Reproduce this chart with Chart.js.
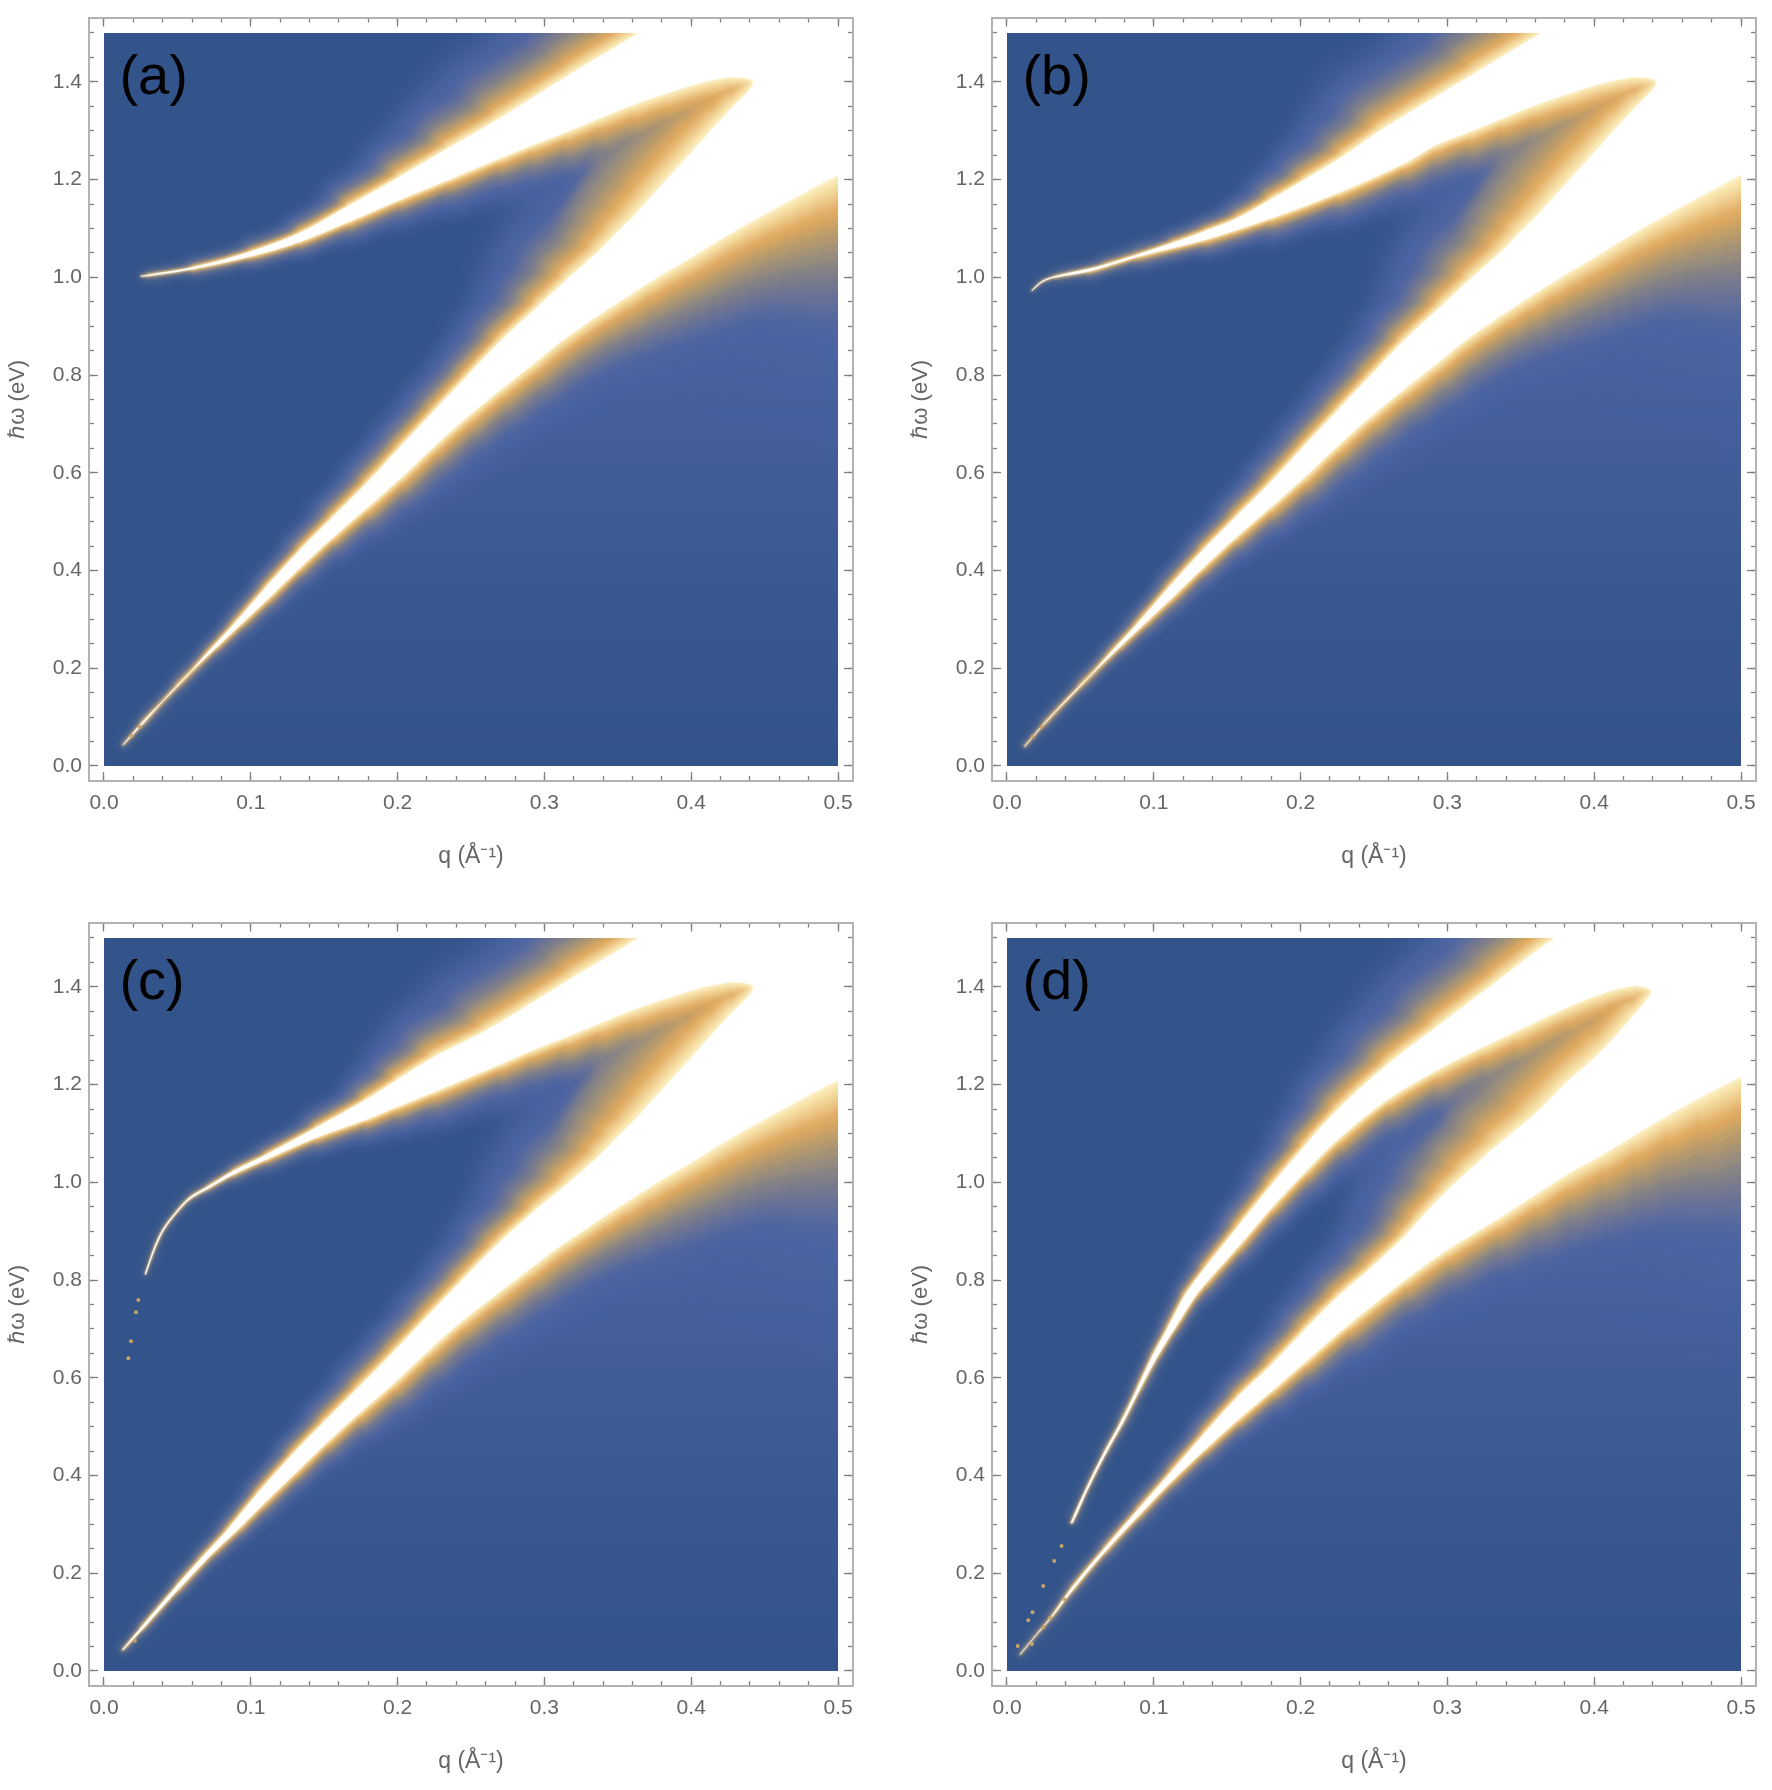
<!DOCTYPE html>
<html>
<head>
<meta charset="utf-8">
<script src="https://cdn.jsdelivr.net/npm/chart.js@4"></script>
<style>
html, body { margin: 0; padding: 0; background: #fff; }
body { position: relative; width: 1772px; height: 1790px; overflow: hidden; }
canvas { position: absolute; }
</style>
</head>
<body>
<canvas id="panelA" width="886" height="885" style="left:0;top:0"></canvas>
<canvas id="panelB" width="869" height="885" style="left:903px;top:0"></canvas>
<canvas id="panelC" width="886" height="885" style="left:0;top:905px"></canvas>
<canvas id="panelD" width="869" height="885" style="left:903px;top:905px"></canvas>
<script>
// axis ticks
const qMajor = 0.1, qMinor = 0.02;
const wMajor = 0.2, wMinor = 0.05;

// Every curve below is q, hbar-omega and the width of its orange glow in meV.
// High q part of the lower edge, lens top and lens bottom are the same in (a), (b), (c)
const farEdgeQ = [.3243,.34,.355,.37,.3835,.395,.406,.417,.4285,.44,.4516,.463,.4741,.487,.5,.52,.54];
const farEdgeW = [.897,.929,.958,.987,1.012,1.032,1.052,1.073,1.093,1.113,1.132,1.151,1.169,1.19,1.21,1.24,1.27];
const farEdgeG = [50,54,60,66,72,76,80,85,90,96,104,113,124,136,150,160,170];
const cornerQ = [.6,.6,.46,.42];
const cornerW = [1.3,1.7,1.7,1.61];
const cornerG = [100,60,60,60];
const lensTopQ = [.2923,.3154,.338,.3604,.3835,.406,.42,.4285,.4414];
const lensTopW = [1.271,1.298,1.326,1.353,1.377,1.398,1.407,1.41,1.404];
const lensTopG = [34,40,50,60,68,72,70,60,50];
const lensBottomQ = [.4414,.4285,.417,.406,.395,.3835,.372,.3604,.349,.338,.3165];
const lensBottomW = [1.39,1.349,1.312,1.275,1.238,1.2,1.162,1.124,1.09,1.056,.9985];
const lensBottomG = [50,75,85,95,100,100,95,88,78,66,52];

// panel (a)
const aLowQ = [.013,.026,.05,.077,.094,.111,.133,.156,.179,.2016,.2245,.2473,.27,.2925,.31];
const aLowW = [.043,.085,.165,.244,.292,.34,.404,.468,.528,.588,.653,.714,.77,.823,.866];
const aLowG = [1.5,2.5,5,7,9,11,13,16,22,28,32,36,40,44,48];
const aCurveQ = [.364,.32,.27,.235,.2016,.167,.1335,.1,.06,.03,.025];
const aCurveW = [1.5,1.42,1.326,1.265,1.206,1.147,1.091,1.053,1.02,1.005,1.002];
const aCurveG = [62,60,50,38,28,18,11,8,4,1.5,.6];
const aInnerQ = [.03,.06,.1,.1335,.167,.2016,.235,.27];
const aInnerW = [1.003,1.017,1.043,1.073,1.114,1.159,1.2,1.244];
const aInnerG = [.6,4,8,10,14,18,22,28];
const aBackQ = [.297,.2698,.247,.2243,.2015,.179,.156,.1335,.11,.088,.07,.054,.0257,.013];
const aBackW = [.9445,.8686,.797,.725,.652,.579,.51,.442,.365,.2887,.23,.176,.088,.043];
const aBackG = [40,30,27,24,22,20,16,13,10,8,6,5,2.5,1.2];
const aSpecksQ = [.0245,.0189];
const aSpecksW = [.08,.0614];

// panel (b)
const bLowQ = [.012,.025,.05,.077,.094,.111,.133,.156,.179,.2016,.2245,.2473,.27,.2925,.31];
const bLowW = [.04,.085,.165,.244,.292,.34,.404,.468,.528,.588,.653,.714,.77,.823,.866];
const bLowG = [1.5,2.5,5,7,9,11,13,16,22,28,32,36,40,44,48];
const bCurveQ = [.3637,.32,.2552,.23,.203,.18,.1575,.135,.1122,.0668,.0327,.0236,.0168];
const bCurveW = [1.5,1.42,1.302,1.25,1.2,1.16,1.122,1.095,1.07,1.0256,1.0017,.9914,.973];
const bCurveG = [62,60,46,34,26,18,12,10,8,4,1.5,1,.4];
const bInnerQ = [.0172,.0245,.033,.0554,.0894,.1349,.18,.2257,.271];
const bInnerW = [.973,.9914,1.0003,1.012,1.0426,1.077,1.121,1.173,1.234];
const bInnerG = [.4,.6,1.5,4,8,11,16,22,28];
const bBackQ = [.297,.2698,.247,.2243,.2015,.179,.156,.1335,.11,.088,.07,.054,.0257,.012];
const bBackW = [.9445,.8686,.797,.725,.652,.579,.51,.442,.365,.2887,.23,.176,.088,.04];
const bBackG = [40,30,27,24,22,20,16,13,10,8,6,5,2.5,1.2];
const bSpecksQ = [.0235,.0175];
const bSpecksW = [.08,.06];

// panel (c)
const cLowQ = [.013,.026,.05,.075,.092,.108,.13,.152,.174,.197,.22,.243,.267,.29,.309];
const cLowW = [.043,.085,.165,.244,.292,.34,.404,.468,.528,.588,.653,.714,.77,.823,.866];
const cLowG = [1.5,2.5,5,7,9,11,13,16,22,28,32,36,40,44,48];
const cCurveQ = [.364,.32,.2618,.2243,.2,.179,.1449,.1108,.088,.07,.0586,.0495,.0402,.0347,.0313,.0279];
const cCurveW = [1.5,1.42,1.313,1.2555,1.21,1.17,1.1125,1.057,1.023,.99,.9695,.941,.904,.87,.842,.812];
const cCurveG = [62,60,48,36,26,18,11,8,5,3,2,1.5,1,.7,.5,.2];
const cInnerQ = [.0285,.032,.0355,.041,.0498,.0586,.07,.088,.1108,.1449,.179,.2,.2243,.2698];
const cInnerW = [.812,.842,.87,.904,.939,.966,.986,1.016,1.047,1.092,1.129,1.155,1.1845,1.2416];
const cInnerG = [.2,.5,.7,1,1.5,2,3,5,8,11,16,20,24,30];
const cBackQ = [.2945,.2665,.243,.22,.197,.173,.15,.128,.105,.084,.066,.05,.025,.0125];
const cBackW = [.9445,.8686,.797,.725,.652,.579,.51,.442,.365,.2887,.23,.176,.088,.043];
const cBackG = [40,30,27,24,22,20,16,13,10,8,6,5,2.5,1.2];
const cSpecksQ = [.0234,.0218,.0184,.0166,.021];
const cSpecksW = [.759,.734,.675,.64,.062];

// panel (d)
const dLowQ = [.009,.0202,.0304,.0441,.0668,.0894,.1122,.1349,.1576,.1803,.203,.2324,.2711,.3,.3337,.3585,.3813,.404,.4264,.4494,.472,.5,.54];
const dLowW = [.034,.0747,.11,.1634,.244,.317,.3886,.4534,.5149,.5729,.632,.708,.8,.862,.924,.972,1.016,1.054,1.095,1.136,1.174,1.217,1.28];
const dLowG = [1,1.5,2,3.5,5,7,9,11,14,18,22,28,36,42,50,60,70,80,90,104,124,150,170];
const dCurveQ = [.47,.43,.3733,.3358,.2936,.2595,.2255,.203,.1803,.1574,.1349,.121,.109,.099,.0884,.0773,.0661,.0548,.0436];
const dCurveW = [1.7,1.6,1.5,1.4156,1.32,1.2416,1.1495,1.075,.995,.91,.825,.768,.7,.6445,.5763,.508,.4466,.3784,.3033];
const dCurveG = [60,60,62,60,50,40,32,24,19,15,11,8,6,5,4,3,2,1.5,1];
const dInnerQ = [.0446,.056,.0675,.0789,.0904,.1026,.114,.1285,.1349,.1574,.1803,.203,.2255,.2595,.2936,.3256,.3472,.3813,.404,.4264,.4385];
const dInnerW = [.3033,.3784,.4466,.508,.5763,.6445,.7,.768,.792,.868,.948,1.0205,1.088,1.17,1.231,1.279,1.31,1.358,1.385,1.402,1.395];
const dInnerG = [1,1.5,2,3,4,5,6,8,10,13,16,20,24,30,40,50,58,68,72,60,50];
const dBackQ = [.4385,.4264,.404,.3813,.3585,.3358,.3132,.2995,.2813,.2711,.2484,.225,.203,.1803,.1576,.1349,.1122,.0894,.0668,.0441,.0304,.0202,.009];
const dBackW = [1.385,1.34,1.265,1.204,1.136,1.08,1.02,.982,.924,.89,.826,.765,.699,.6274,.5626,.4876,.409,.3306,.2522,.1703,.112,.0747,.034];
const dBackG = [50,75,95,100,95,80,66,56,46,38,32,28,24,19,15,12,9,7,5,3.5,2,1.4,1];
const dSpecksQ = [.0372,.0322,.0247,.0174,.0145,.0073,.0395,.0293,.025,.017];
const dSpecksW = [.2556,.2249,.1737,.1204,.104,.051,.146,.109,.09,.055];

// Colour ramp of the density plot, outermost first: [share of glow width, colour, soft pass]
const ramp = [
    [3.6, 'rgba(74,99,162,.1)'], [3.3, 'rgba(74,99,162,.18)'], [3.0, 'rgba(74,99,162,.3)'], [2.7, 'rgba(74,99,162,.5)'],
    [2.4, '#4a63a2'], [2.15, '#4f65a0'], [1.95, '#56699e'], [1.82, '#5e6d9b'], [1.7, '#667198'], [1.55, '#727791'],
    [1.4, '#7d7d8a'], [1.25, '#8a8583', 4],
    [1.12, '#978c7d'], [.98, '#a49276'], [.86, '#b3986e'], [.74, '#c09e69'], [.64, '#cfa364'], [.56, '#d8a662'], [.5, '#dfab62', 1.5],
    [.44, '#e2b06a'], [.38, '#e7ba75'], [.33, '#eac27f'], [.28, '#edca8a'], [.23, '#f1d295'], [.18, '#f4daa0'],
    [.13, '#f7e2a8'], [.08, '#fae9b8'], [.03, '#fdf3cf', .8]
];
const haloFrom = 1.55;   // layers this far out stay tight around everything but the lower edge
const haloCap = 62;      // meV

const toPoints = (qs, ws) => qs.map((q, i) => ({ x: q, y: ws[i] }));
const inset = { left: -15, right: -15, top: -15.5, bottom: -15 };

// soft passes over the colour bands, the last one also trims them to the plot rectangle
const softenBands = {
    id: 'softenBands',
    afterDatasetDraw(chart, args) {
        const ds = chart.data.datasets[args.index];
        if (!ds.soften) return;
        const { ctx, canvas, scales, chartArea: a } = chart;
        ctx.save();
        ctx.beginPath();
        ctx.rect(a.left, a.top, a.right - a.left, a.bottom - a.top);
        ctx.clip();
        ctx.filter = 'blur(' + ds.soften + 'px)';
        ctx.drawImage(canvas, 0, 0);
        ctx.filter = 'none';
        if (ds.trim) {
            const left = scales.x.getPixelForValue(0), right = scales.x.getPixelForValue(.5);
            const top = scales.y.getPixelForValue(1.5), bottom = scales.y.getPixelForValue(0);
            ctx.beginPath();
            ctx.rect(a.left, a.top, a.right - a.left, a.bottom - a.top);
            ctx.rect(left, top, right - left, bottom - top);
            ctx.fillStyle = '#fff';
            ctx.fill('evenodd');
        }
        ctx.restore();
    }
};

// panel letter
const panelLetter = {
    id: 'panelLetter',
    afterDatasetsDraw(chart, args, opts) {
        const { ctx, scales } = chart;
        ctx.save();
        ctx.font = '56px "Liberation Sans"';
        ctx.fillStyle = '#000';
        ctx.textAlign = 'left';
        ctx.textBaseline = 'alphabetic';
        ctx.fillText(opts.text, scales.x.getPixelForValue(0.0105), scales.y.getPixelForValue(1.376));
        ctx.restore();
    }
};

function makeAxis(axis, position, step, major, labelled) {
    const cfg = {
        type: 'linear',
        axis: axis,
        position: position,
        min: axis === 'x' ? -0.0102 : -0.0307,
        max: axis === 'x' ? 0.5102 : 1.5317,
        weight: labelled ? 5 : 1,
        afterFit(s) {
            if (axis === 'x') s.height = labelled ? 104 : 0;
            else s.width = labelled ? 89 : 0;
            s.paddingLeft = s.paddingRight = s.paddingTop = s.paddingBottom = 0;
        },
        border: { color: '#b2b2b2', width: 2, z: 1 },
        grid: {
            z: 1,
            drawOnChartArea: false,
            tickLength: major ? -9 : -5,
            tickColor: '#7f7f7f',
            tickWidth: 1.3
        },
        ticks: {
            display: !!labelled,
            stepSize: step,
            includeBounds: false,
            autoSkip: false,
            maxRotation: 0,
            maxTicksLimit: 200,
            color: '#666',
            font: { family: '"Liberation Sans"', size: 21 },
            padding: axis === 'x' ? 19 : 16,
            callback: v => Number(v).toFixed(1)
        },
        title: { display: false }
    };
    if (labelled) {
        cfg.title = axis === 'x'
            ? { display: true, text: 'q (Å⁻¹)', color: '#666', font: { family: '"Liberation Sans"', size: 23 }, padding: 15 }
            : { display: true, text: 'ℏω (eV)', color: '#666', font: { family: '"Liberation Sans"', size: 22 }, padding: 5 };
    }
    return cfg;
}

function drawPanel(id, letter, edgeQ, edgeW, edgeG, restQ, restW, restG, specksQ, specksW) {
    const outlineQ = edgeQ.concat(restQ);
    const outlineW = edgeW.concat(restW);
    const outlineG = edgeG.concat(restG);
    const outline = toPoints(outlineQ, outlineW);
    const sets = [];

    // dark base of the plot, runs past the frame so the soft pass has no white to pull in
    sets.push({
        data: toPoints([-.03, .53, .53, -.03], [-.06, -.06, 1.56, 1.56]),
        showLine: true, fill: 'shape', backgroundColor: '#33548a', borderWidth: 0, pointRadius: 0, clip: 0
    });

    // lighter blue under the lower edge, fading to the bottom
    const washQ = edgeQ.slice(1).concat([edgeQ[edgeQ.length - 1], edgeQ[1]]);
    const washW = edgeW.slice(1).concat([-.06, -.06]);
    sets.push({
        data: toPoints(washQ, washW),
        showLine: true, fill: 'shape', borderWidth: 0, pointRadius: 0, clip: 0,
        backgroundColor(c) {
            const { ctx, scales, chartArea } = c.chart;
            if (!chartArea) return 'transparent';
            const g = ctx.createLinearGradient(0, scales.y.getPixelForValue(0), 0, scales.y.getPixelForValue(.85));
            g.addColorStop(0, 'rgba(74,99,162,0)');
            g.addColorStop(.24, 'rgba(74,99,162,.12)');
            g.addColorStop(.47, 'rgba(74,99,162,.32)');
            g.addColorStop(.7, 'rgba(74,99,162,.6)');
            g.addColorStop(1, 'rgba(74,99,162,1)');
            return g;
        }
    });

    // glow bands around the white region
    ramp.forEach(([share, colour, soft], n) => {
        sets.push({
            data: outline,
            showLine: true, fill: false, pointRadius: 0, clip: 0,
            tension: .35, capBezierPoints: false,
            soften: soft,
            trim: n === ramp.length - 1,
            borderColor: colour, borderWidth: 1,
            borderCapStyle: 'round', borderJoinStyle: 'round',
            segment: {
                borderWidth(s) {
                    const y = s.chart.scales.y;
                    let meV = (outlineG[s.p0DataIndex] + outlineG[s.p1DataIndex]) / 2;
                    if (share >= haloFrom && s.p0DataIndex >= edgeQ.length) meV = Math.min(meV, haloCap);
                    return 2 * share * (y.getPixelForValue(0) - y.getPixelForValue(meV / 1000));
                }
            }
        });
    });

    // the saturated white region
    sets.push({
        data: outline,
        showLine: true, fill: 'shape', backgroundColor: '#fff', borderColor: '#fff', borderWidth: .5,
        tension: .35, capBezierPoints: false,
        pointRadius: 0, clip: inset
    });

    sets.push({
        data: toPoints(specksQ, specksW),
        showLine: false, pointRadius: 2, pointBorderWidth: 0, pointBackgroundColor: '#c9a26a', clip: inset
    });

    sets.forEach((s, i) => { s.order = sets.length - i; });

    new Chart(document.getElementById(id), {
        type: 'scatter',
        data: { datasets: sets },
        options: {
            responsive: false,
            animation: false,
            layout: { padding: { top: 17.5, right: document.getElementById(id).width - 853, left: 0, bottom: 0 } },
            plugins: { legend: { display: false }, tooltip: { enabled: false }, panelLetter: { text: letter } },
            scales: {
                x: makeAxis('x', 'bottom', qMajor, true, true),
                xm: makeAxis('x', 'bottom', qMinor, false, false),
                xt: makeAxis('x', 'top', qMajor, true, false),
                xtm: makeAxis('x', 'top', qMinor, false, false),
                y: makeAxis('y', 'left', wMajor, true, true),
                ym: makeAxis('y', 'left', wMinor, false, false),
                yr: makeAxis('y', 'right', wMajor, true, false),
                yrm: makeAxis('y', 'right', wMinor, false, false)
            }
        },
        plugins: [softenBands, panelLetter]
    });
}

drawPanel('panelA', '(a)',
    aLowQ.concat(farEdgeQ), aLowW.concat(farEdgeW), aLowG.concat(farEdgeG),
    cornerQ.concat(aCurveQ, aInnerQ, lensTopQ, lensBottomQ, aBackQ),
    cornerW.concat(aCurveW, aInnerW, lensTopW, lensBottomW, aBackW),
    cornerG.concat(aCurveG, aInnerG, lensTopG, lensBottomG, aBackG),
    aSpecksQ, aSpecksW);
drawPanel('panelB', '(b)',
    bLowQ.concat(farEdgeQ), bLowW.concat(farEdgeW), bLowG.concat(farEdgeG),
    cornerQ.concat(bCurveQ, bInnerQ, lensTopQ, lensBottomQ, bBackQ),
    cornerW.concat(bCurveW, bInnerW, lensTopW, lensBottomW, bBackW),
    cornerG.concat(bCurveG, bInnerG, lensTopG, lensBottomG, bBackG),
    bSpecksQ, bSpecksW);
drawPanel('panelC', '(c)',
    cLowQ.concat(farEdgeQ), cLowW.concat(farEdgeW), cLowG.concat(farEdgeG),
    cornerQ.concat(cCurveQ, cInnerQ, lensTopQ, lensBottomQ, cBackQ),
    cornerW.concat(cCurveW, cInnerW, lensTopW, lensBottomW, cBackW),
    cornerG.concat(cCurveG, cInnerG, lensTopG, lensBottomG, cBackG),
    cSpecksQ, cSpecksW);
drawPanel('panelD', '(d)',
    dLowQ, dLowW, dLowG,
    cornerQ.slice(0, 2).concat(dCurveQ, dInnerQ, dBackQ),
    cornerW.slice(0, 2).concat(dCurveW, dInnerW, dBackW),
    cornerG.slice(0, 2).concat(dCurveG, dInnerG, dBackG),
    dSpecksQ, dSpecksW);
</script>
</body>
</html>
